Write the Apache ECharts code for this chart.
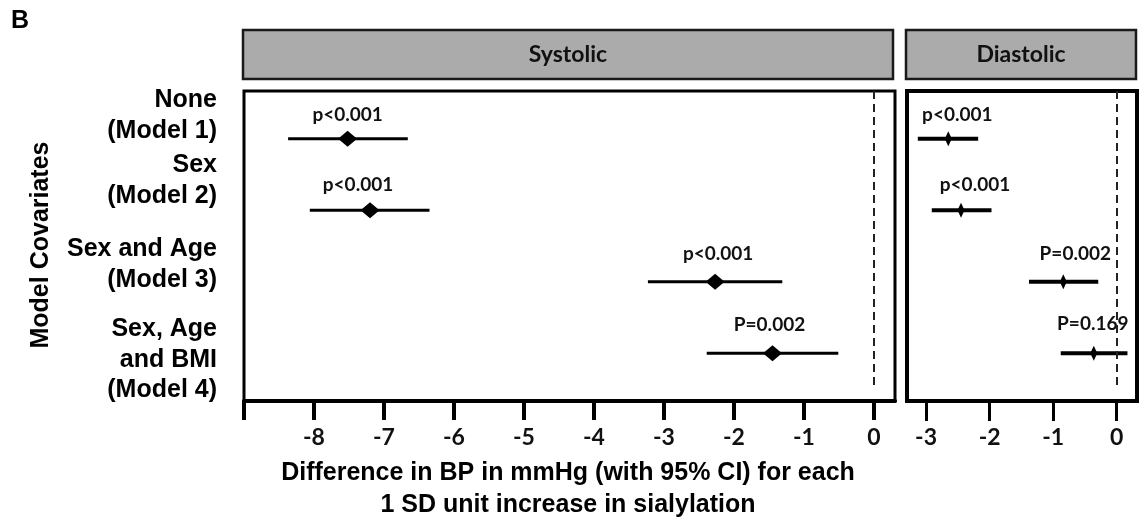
<!DOCTYPE html>
<html>
<head>
<meta charset="utf-8">
<script src="https://cdn.jsdelivr.net/npm/echarts@6/dist/echarts.min.js"></script>
<style>
html,body{margin:0;padding:0;background:#fff;}
#chart{width:1139px;height:526px;}
</style>
</head>
<body>
<div id="chart"></div>
<script>
// ---- data ----
const rows = [1, 2, 3, 4];
const covariateLabels = ['None\n(Model 1)', 'Sex\n(Model 2)', 'Sex and Age\n(Model 3)', 'Sex, Age\nand BMI\n(Model 4)'];
const panelTitles = ['Systolic', 'Diastolic'];

const systolicEst   = [-7.52, -7.20, -2.27, -1.45];
const systolicLower = [-8.37, -8.06, -3.23, -2.39];
const systolicUpper = [-6.66, -6.35, -1.31, -0.51];
const systolicP     = ['p<0.001', 'p<0.001', 'p<0.001', 'P=0.002'];

const diastolicEst   = [-2.65, -2.45, -0.84, -0.36];
const diastolicLower = [-3.13, -2.91, -1.38, -0.88];
const diastolicUpper = [-2.18, -1.97, -0.29, 0.17];
const diastolicP     = ['p<0.001', 'p<0.001', 'P=0.002', 'P=0.169'];

const systolicTickMarks  = [-9, -8, -7, -6, -5, -4, -3, -2, -1, 0];
const systolicTickLabels = [-8, -7, -6, -5, -4, -3, -2, -1, 0];
const diastolicTicks     = [-3, -2, -1, 0];
const referenceValue = 0;

const xTitle = 'Difference in BP in mmHg (with 95% CI) for each\n1 SD unit increase in sialylation';
const yTitle = 'Model Covariates';
const panelLetter = 'B';

// ---- styles ----
const ARIAL = '"Liberation Sans", Arial, sans-serif';
const CAL = 'Lato, "Open Sans", sans-serif';
const sysLabelShift = [[0, -24], [-12, -25], [3, -28], [-3, -28]];
const diaLabelShift = [[9, -24], [14, -25], [12, -28], [-1, -29]];

const chart = echarts.init(document.getElementById('chart'), null, {renderer: 'canvas'});

function errorBarSeries(idx, lower, upper, width) {
  return {
    type: 'custom',
    xAxisIndex: idx, yAxisIndex: idx,
    data: rows.map((r, i) => [lower[i], upper[i], r]),
    encode: {x: [0, 1], y: 2},
    renderItem: function (params, api) {
      const a = api.coord([api.value(0), api.value(2)]);
      const b = api.coord([api.value(1), api.value(2)]);
      return {type: 'line', shape: {x1: a[0], y1: a[1], x2: b[0], y2: b[1]},
        style: {stroke: '#000', lineWidth: width}};
    },
    z: 3
  };
}

function pointSeries(idx, est, pvals, shifts, size) {
  return {
    type: 'scatter',
    xAxisIndex: idx, yAxisIndex: idx,
    symbol: 'diamond',
    symbolSize: size,
    itemStyle: {color: '#000', opacity: 1},
    data: rows.map((r, i) => ({
      value: [est[i], r],
      label: {show: true, position: 'inside', offset: shifts[i], formatter: pvals[i]}
    })),
    label: {color: '#111', fontFamily: CAL, fontWeight: 'bold', fontSize: 19},
    markLine: {
      silent: true, symbol: ['none', 'none'],
      lineStyle: {type: [8, 5], color: '#222', width: 2},
      label: {show: false},
      data: [[{coord: [referenceValue, 0.33]}, {coord: [referenceValue, 4.455]}]]
    },
    z: 4
  };
}

const option = {
  animation: false,
  backgroundColor: '#fff',
  grid: [
    {left: 244, top: 91, width: 651, height: 310, show: true, borderColor: '#000', borderWidth: 3, backgroundColor: '#fff'},
    {left: 907, top: 91, width: 230, height: 310, show: true, borderColor: '#000', borderWidth: 4, backgroundColor: '#fff'}
  ],
  xAxis: [
    {
      gridIndex: 0, type: 'value', min: -9, max: 0.3,
      splitLine: {show: false},
      axisLine: {show: true, onZero: false, lineStyle: {color: '#000', width: 4}},
      axisTick: {show: true, length: 19, customValues: systolicTickMarks, lineStyle: {color: '#000', width: 4}},
      axisLabel: {customValues: systolicTickLabels, margin: 25, color: '#111', fontFamily: CAL, fontWeight: 'bold', fontSize: 23}
    },
    {
      gridIndex: 1, type: 'value', min: -3.3, max: 0.32,
      splitLine: {show: false},
      axisLine: {show: true, onZero: false, lineStyle: {color: '#000', width: 4}},
      axisTick: {show: true, length: 20, customValues: diastolicTicks, lineStyle: {color: '#000', width: 3}},
      axisLabel: {customValues: diastolicTicks, margin: 25, color: '#111', fontFamily: CAL, fontWeight: 'bold', fontSize: 23}
    }
  ],
  yAxis: [
    {gridIndex: 0, type: 'value', min: 0.33, max: 4.67, inverse: true, show: false},
    {gridIndex: 1, type: 'value', min: 0.33, max: 4.67, inverse: true, show: false}
  ],
  series: [
    errorBarSeries(0, systolicLower, systolicUpper, 3),
    pointSeries(0, systolicEst, systolicP, sysLabelShift, [19, 16]),
    errorBarSeries(1, diastolicLower, diastolicUpper, 4),
    pointSeries(1, diastolicEst, diastolicP, diaLabelShift, [7, 15])
  ],
  graphic: [
    {type: 'text', left: 11, top: 9, style: {text: panelLetter, font: 'bold 25px ' + ARIAL, fill: '#000'}},
    {type: 'rect', shape: {x: 243, y: 30, width: 650, height: 49},
      style: {fill: '#ababab', stroke: '#1a1a1a', lineWidth: 2.5}},
    {type: 'text', x: 568, y: 54.5, style: {text: panelTitles[0], font: 'bold 23px ' + CAL, fill: '#111', align: 'center', verticalAlign: 'middle'}},
    {type: 'rect', shape: {x: 906, y: 30, width: 230, height: 49},
      style: {fill: '#ababab', stroke: '#1a1a1a', lineWidth: 2.5}},
    {type: 'text', x: 1021, y: 54.5, style: {text: panelTitles[1], font: 'bold 23px ' + CAL, fill: '#111', align: 'center', verticalAlign: 'middle'}},
    {type: 'text', x: 41, y: 245, rotation: Math.PI / 2,
      style: {text: yTitle, font: 'bold 25px ' + ARIAL, fill: '#000', align: 'center', verticalAlign: 'middle'}},
    {type: 'text', x: 568, y: 489, style: {text: xTitle, font: 'bold 25px ' + ARIAL, lineHeight: 32, fill: '#000', align: 'center', verticalAlign: 'middle'}}
  ].concat(covariateLabels.map((t, i) => ({
    type: 'text', x: 217, y: [115.6, 180.5, 264.5, 360][i],
    style: {text: t, font: 'bold 25px ' + ARIAL, lineHeight: 30.5, fill: '#000', align: 'right', verticalAlign: 'middle'}
  })))
};
chart.setOption(option);
</script>
</body>
</html>
